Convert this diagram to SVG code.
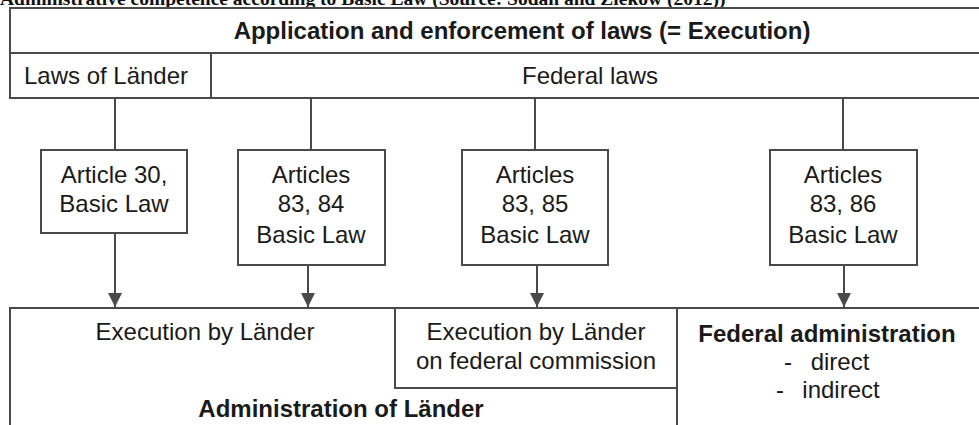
<svg xmlns="http://www.w3.org/2000/svg" width="979" height="425" viewBox="0 0 979 425">
<defs>
<style>
.ln{stroke:#4a4a4a;stroke-width:2;fill:none}
.bx{stroke:#4a4a4a;stroke-width:2;fill:#fff}
.t{font-family:"Liberation Sans",Arial,sans-serif;font-size:24px;fill:#1a1a1a;text-anchor:middle}
.b{font-weight:bold}
.cap{font-family:"Liberation Serif","Times New Roman",serif;font-size:19.5px;font-weight:bold;fill:#111}
</style>
<marker id="ah" viewBox="0 0 14 16" refX="14" refY="8" markerWidth="14" markerHeight="16" markerUnits="userSpaceOnUse" orient="auto">
<path d="M0,1 L14,8 L0,15 Z" fill="#4a4a4a"/>
</marker>
</defs>
<rect width="979" height="425" fill="#fff"/>
<text class="cap" x="0" y="4.5">Administrative competence according to Basic Law (Source: Sodan and Ziekow (2012))</text>

<g id="header">
<rect class="ln" x="10" y="8" width="980" height="90"/>
<line class="ln" x1="10" y1="53" x2="990" y2="53"/>
<text class="t b" x="522" y="39">Application and enforcement of laws (= Execution)</text>
</g>
<g id="laws-laender">
<line class="ln" x1="211" y1="53" x2="211" y2="98"/>
<text class="t" x="106" y="84">Laws of Länder</text>
</g>
<g id="federal-laws">
<text class="t" x="590" y="84">Federal laws</text>
</g>

<g id="connectors">
<line class="ln" x1="115" y1="98" x2="115" y2="150"/>
<line class="ln" x1="311" y1="98" x2="311" y2="150"/>
<line class="ln" x1="535" y1="98" x2="535" y2="150"/>
<line class="ln" x1="843" y1="98" x2="843" y2="150"/>
<line class="ln" x1="115" y1="233" x2="115" y2="307" marker-end="url(#ah)"/>
<line class="ln" x1="308" y1="265" x2="308" y2="307" marker-end="url(#ah)"/>
<line class="ln" x1="537" y1="265" x2="537" y2="307" marker-end="url(#ah)"/>
<line class="ln" x1="844" y1="265" x2="844" y2="307" marker-end="url(#ah)"/>
</g>

<g id="art30">
<rect class="bx" x="41" y="150" width="146" height="83"/>
<text class="t" x="114" y="183">Article 30,</text>
<text class="t" x="114" y="212">Basic Law</text>
</g>
<g id="art8384">
<rect class="bx" x="238" y="150" width="147" height="115"/>
<text class="t" x="311" y="183">Articles</text>
<text class="t" x="311" y="212">83, 84</text>
<text class="t" x="311" y="243">Basic Law</text>
</g>
<g id="art8385">
<rect class="bx" x="462" y="150" width="146" height="115"/>
<text class="t" x="535" y="183">Articles</text>
<text class="t" x="535" y="212">83, 85</text>
<text class="t" x="535" y="243">Basic Law</text>
</g>
<g id="art8386">
<rect class="bx" x="770" y="150" width="147" height="115"/>
<text class="t" x="843" y="183">Articles</text>
<text class="t" x="843" y="212">83, 86</text>
<text class="t" x="843" y="243">Basic Law</text>
</g>

<g id="admin-laender">
<path class="ln" d="M10,440 L10,308 L990,308"/>
<text class="t" x="205" y="340">Execution by Länder</text>
<text class="t b" x="341" y="417">Administration of Länder</text>
</g>
<g id="federal-commission">
<path class="ln" d="M395,308 L395,388 L677,388"/>
<text class="t" x="536" y="340">Execution by Länder</text>
<text class="t" x="536" y="369">on federal commission</text>
</g>
<g id="federal-admin">
<line class="ln" x1="677" y1="308" x2="677" y2="440"/>
<text class="t b" x="827" y="342">Federal administration</text>
<text class="t" x="788" y="370">-</text>
<text class="t" x="840" y="370">direct</text>
<text class="t" x="780" y="398">-</text>
<text class="t" x="841" y="398">indirect</text>
</g>
</svg>
